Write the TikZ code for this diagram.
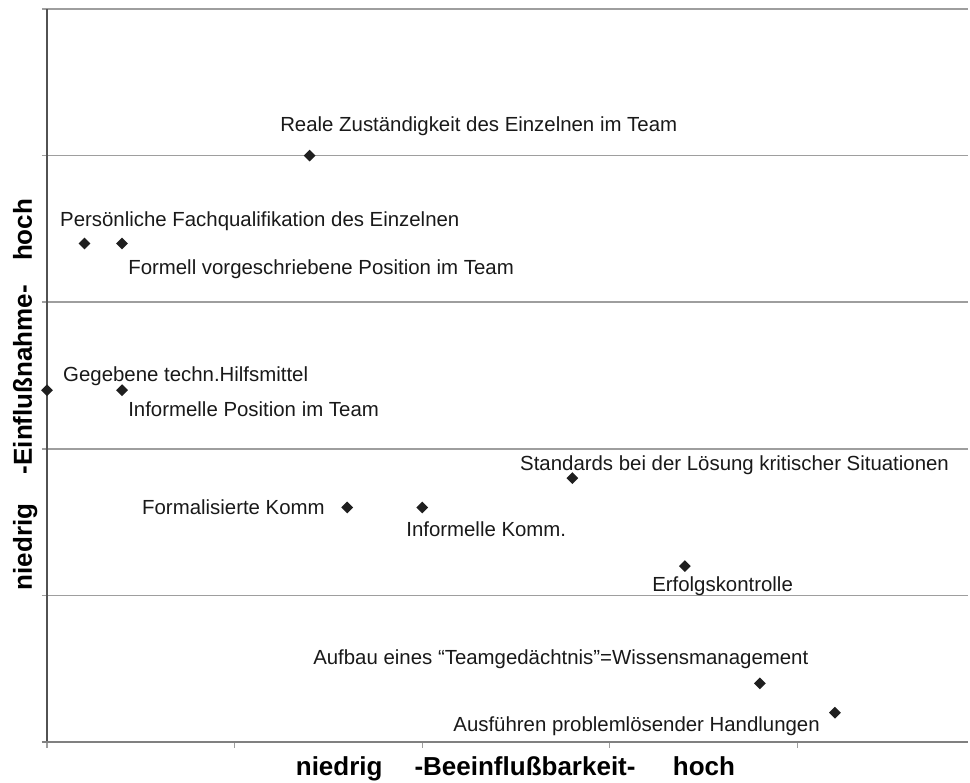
\documentclass[tikz,border=0pt]{standalone}
\usepackage{fontspec}
\setmainfont{Liberation Sans}
\usetikzlibrary{shapes.geometric}

\begin{document}
\begin{tikzpicture}[
  x=140.7pt, y=109.95pt,
  gridline/.style={black!38, line width=1.1pt},
  yaxisline/.style={black!68, line width=1.2pt},
  xaxisline/.style={black!50, line width=1.7pt},
  tickmark/.style={black!38, line width=0.8pt},
  marker/.style={diamond, fill=black!88, inner sep=0pt, minimum size=9pt},
  lbl/.style={anchor=base west, inner sep=0pt, font=\fontsize{15.3}{18}\selectfont, text=black!90},
  axtitle/.style={anchor=base, inner sep=0pt, font=\fontsize{19.5}{23}\selectfont\bfseries}
]
\useasboundingbox (-0.2505,-0.2729) rectangle (4.920,5.0614);

% grid and axes
\foreach \gy in {1,...,5}
  \draw[gridline] (-0.027,\gy) -- (4.909,\gy);
\foreach \gx in {0,...,4}
  \draw[tickmark] (\gx,0) -- (\gx,-0.042);
\draw[yaxisline] (0,0) -- (0,5);
\draw[xaxisline] (-0.027,0) -- (4.909,0);

% data points
\node[marker] (real)  at (1.4,4.0) {};
\node[marker] (fach)  at (0.2,3.4) {};
\node[marker] (formp) at (0.4,3.4) {};
\node[marker] (hilf)  at (0,2.4) {};
\node[marker] (infp)  at (0.4,2.4) {};
\node[marker] (stand) at (2.8,1.8) {};
\node[marker] (formk) at (1.6,1.6) {};
\node[marker] (infk)  at (2.0,1.6) {};
\node[marker] (erf)   at (3.4,1.2) {};
\node[marker] (wiss)  at (3.8,0.4) {};
\node[marker] (ausf)  at (4.2,0.2) {};

% labels
\node[lbl] (realtxt)  at (1.242,4.161) {Reale Zuständigkeit des Einzelnen im Team};
\node[lbl] (fachtxt)  at (0.069,3.513) {Persönliche Fachqualifikation des Einzelnen};
\node[lbl] (formptxt) at (0.432,3.192) {Formell vorgeschriebene Position im Team};
\node[lbl] (hilftxt)  at (0.085,2.456) {Gegebene techn.Hilfsmittel};
\node[lbl] (infptxt)  at (0.432,2.217) {Informelle Position im Team};
\node[lbl] (standtxt) at (2.521,1.849) {Standards bei der Lösung kritischer Situationen};
\node[lbl] (formktxt) at (0.506,1.555) {Formalisierte Komm};
\node[lbl] (infktxt)  at (1.914,1.405) {Informelle Komm.};
\node[lbl] (erftxt)   at (3.225,1.030) {Erfolgskontrolle};
\node[lbl] (wisstxt)  at (1.418,0.532) {Aufbau eines “Teamgedächtnis”=Wissensmanagement};
\node[lbl] (ausftxt)  at (2.165,0.075) {Ausführen problemlösender Handlungen};

% axis titles
\node[axtitle] (xtitle) at (2.497,-0.225) {niedrig\hspace{24pt}-Beeinflußbarkeit-\hspace{28pt}hoch};
\node[axtitle, rotate=90] (ytitle) at (-0.080,2.37) {niedrig\hspace{22pt}-Einflußnahme-\hspace{18pt}hoch};
\end{tikzpicture}
\end{document}
